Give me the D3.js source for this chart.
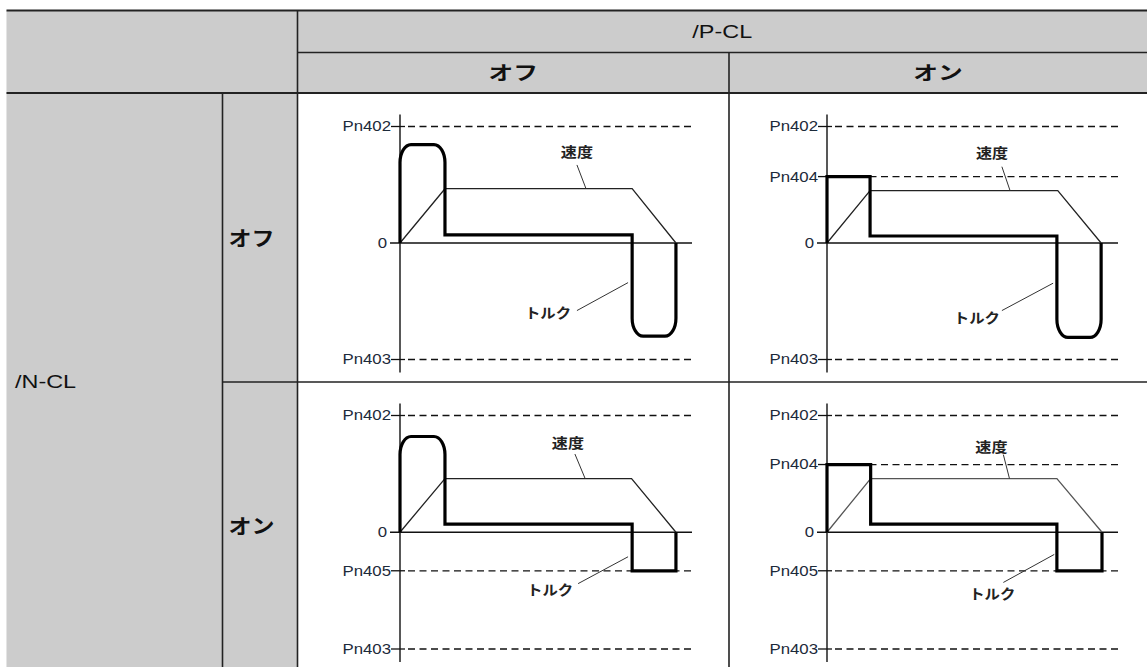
<!DOCTYPE html>
<html><head><meta charset="utf-8">
<script src="https://cdn.jsdelivr.net/npm/d3@7"></script>
<style>html,body{margin:0;padding:0;background:#fff;} svg{display:block}</style>
</head><body>
<svg id="chart" width="1147" height="667"></svg>
<script>
// ---------- DATA ----------
const colHeader = "/P-CL";
const rowHeader = "/N-CL";
const colStates = ["オフ", "オン"];
const rowStates = ["オフ", "オン"];
const speedLabel = "速度";
const torqueLabel = "トルク";

// reference levels [label, value] (Pn402 = +1, Pn403 = -1)
const levelsOffOff = [["Pn402", 1], ["0", 0], ["Pn403", -1]];
const levelsOffOn  = [["Pn402", 1], ["Pn404", 0.57], ["0", 0], ["Pn403", -1]];
const levelsOnOff  = [["Pn402", 1], ["0", 0], ["Pn405", -0.33], ["Pn403", -1]];
const levelsOnOn   = [["Pn402", 1], ["Pn404", 0.58], ["0", 0], ["Pn405", -0.33], ["Pn403", -1]];

// speed [time, value]
const speedOffOff = [[0, 0], [15.4, 0.466], [79.5, 0.466], [94.5, 0]];
const speedOffOn  = [[0, 0], [14.8, 0.45], [79.3, 0.45], [94.2, 0]];
const speedOnOff  = [[0, 0], [15.4, 0.46], [79.3, 0.46], [94.5, 0]];
const speedOnOn   = [[0, 0], [15.0, 0.46], [79.0, 0.46], [94.5, 0]];

// torque [time, value]
const torqueOffOff = [[0, 0], [0, 0.845], [15.4, 0.845], [15.4, 0.07], [79.5, 0.07], [79.5, -0.80], [94.5, -0.80], [94.5, 0]];
const torqueOffOn  = [[0, 0], [0, 0.57], [14.8, 0.57], [14.8, 0.06], [79.0, 0.06], [79.0, -0.81], [94.2, -0.81], [94.2, 0]];
const torqueOnOff  = [[0, 0], [0, 0.82], [15.4, 0.82], [15.4, 0.07], [79.5, 0.07], [79.5, -0.33], [94.5, -0.33], [94.5, 0]];
const torqueOnOn   = [[0, 0], [0, 0.58], [15.0, 0.58], [15.0, 0.07], [79.0, 0.07], [79.0, -0.33], [94.5, -0.33], [94.5, 0]];

// label anchors [time, value]: speed label, speed leader (from,to), torque label, torque leader (from,to)
const notesOffOff = {speed: [60.6, 0.78], speedLead: [[60.6, 0.67], [63.7, 0.466]], torque: [50.7, -0.60], torqueLead: [[60.6, -0.58], [78.1, -0.34]]};
const notesOffOn  = {speed: [56.7, 0.77], speedLead: [[60.1, 0.655], [62.9, 0.45]], torque: [51.5, -0.64], torqueLead: [[60.1, -0.58], [77.7, -0.345]]};
const notesOnOff  = {speed: [57.5, 0.77], speedLead: [[59.9, 0.67], [63.4, 0.46]], torque: [51.4, -0.49], torqueLead: [[61.0, -0.44], [78.1, -0.21]]};
const notesOnOn   = {speed: [56.5, 0.735], speedLead: [[60.6, 0.665], [62.7, 0.46]], torque: [56.8, -0.53], torqueLead: [[60.6, -0.43], [78.1, -0.19]]};

// ---------- LAYOUT ----------
const W = 1147, H = 667;
const tableLeft = 6.5, tableTop = 10.5, hdrMid = 52.5, hdrBottom = 93;
const col1 = 222.5, col2 = 297.5, colMid = 729, rowMid = 382;
const colPlotX = [[400, 692], [827, 1118]];
const rowPlotY = [[359.5, 126.5], [649, 415.5]];
const roundIdx = [[[1, 2, 5, 6], [5, 6]], [[1, 2], []]];

const panels = [
  {r: 0, c: 0, levels: levelsOffOff, speed: speedOffOff, torque: torqueOffOff, notes: notesOffOff},
  {r: 0, c: 1, levels: levelsOffOn,  speed: speedOffOn,  torque: torqueOffOn,  notes: notesOffOn},
  {r: 1, c: 0, levels: levelsOnOff,  speed: speedOnOff,  torque: torqueOnOff,  notes: notesOnOff},
  {r: 1, c: 1, levels: levelsOnOn,   speed: speedOnOn,   torque: torqueOnOn,   notes: notesOnOn}
];

const svg = d3.select("#chart");
const latin = "'Liberation Sans', Arial, sans-serif";
const jp = "'Noto Sans CJK JP', sans-serif";

// text helper with horizontal stretch (the source is horizontally widened)
function label(parent, x, y, str, o) {
  return parent.append("text")
    .attr("transform", `translate(${x},${y}) scale(${o.sx || 1},1)`)
    .attr("dy", o.dy || "0.35em")
    .attr("text-anchor", o.anchor || "start")
    .attr("font-family", o.family)
    .attr("font-size", o.size)
    .attr("font-weight", o.weight || 400)
    .attr("fill", o.fill || "#111")
    .text(str);
}

// table backgrounds
svg.append("rect").attr("x", tableLeft).attr("y", tableTop).attr("width", W - tableLeft).attr("height", hdrBottom - tableTop).attr("fill", "#cccccc");
svg.append("rect").attr("x", tableLeft).attr("y", hdrBottom).attr("width", col2 - tableLeft).attr("height", H - hdrBottom).attr("fill", "#cccccc");
svg.append("line").attr("x1", tableLeft).attr("x2", tableLeft).attr("y1", tableTop).attr("y2", H).attr("stroke", "#e4e4e4").attr("stroke-width", 1);

const grid = svg.append("g").attr("stroke", "#222").attr("fill", "none");
grid.append("line").attr("x1", tableLeft).attr("x2", W).attr("y1", tableTop).attr("y2", tableTop).attr("stroke-width", 1.8);
grid.append("line").attr("x1", col2).attr("x2", W).attr("y1", hdrMid).attr("y2", hdrMid).attr("stroke-width", 1.6);
grid.append("line").attr("x1", tableLeft).attr("x2", W).attr("y1", hdrBottom).attr("y2", hdrBottom).attr("stroke-width", 2.2);
grid.append("line").attr("x1", col2).attr("x2", col2).attr("y1", tableTop).attr("y2", H).attr("stroke-width", 1.6);
grid.append("line").attr("x1", colMid).attr("x2", colMid).attr("y1", hdrMid).attr("y2", H).attr("stroke-width", 1.6);
grid.append("line").attr("x1", col1).attr("x2", col1).attr("y1", hdrBottom - 1).attr("y2", H).attr("stroke-width", 1.6);
grid.append("line").attr("x1", col1).attr("x2", W).attr("y1", rowMid).attr("y2", rowMid).attr("stroke-width", 1.6);

// headers
const hdr = svg.append("g");
label(hdr, (col2 + W) / 2, (tableTop + hdrMid) / 2, colHeader, {anchor: "middle", family: latin, size: 18, sx: 1.3});
colStates.forEach((s, i) => {
  const x0 = i === 0 ? col2 : colMid, x1 = i === 0 ? colMid : W;
  label(hdr, (x0 + x1) / 2, (hdrMid + hdrBottom) / 2, s, {anchor: "middle", family: jp, size: 19, weight: 700, sx: 1.3, dy: "0.37em"});
});
label(hdr, 15, rowMid, rowHeader, {family: latin, size: 18, sx: 1.3});
const rowLabelY = [239, 527];
rowStates.forEach((s, i) => {
  label(hdr, col1 + 6, rowLabelY[i], s, {family: jp, size: 20, weight: 700, sx: 1.15, dy: "0.37em"});
});

// rounded-corner path builder
function cornerPath(pts, rounded, rx, ry) {
  const p = d3.path();
  p.moveTo(pts[0][0], pts[0][1]);
  for (let i = 1; i < pts.length; i++) {
    const v = pts[i];
    if (rounded.includes(i) && i < pts.length - 1) {
      const a = pts[i - 1], b = pts[i + 1];
      const inLen = Math.hypot(v[0] - a[0], v[1] - a[1]);
      const outLen = Math.hypot(b[0] - v[0], b[1] - v[1]);
      const inVert = Math.abs(v[0] - a[0]) < 0.5;
      const dIn = inVert ? ry : rx, dOut = inVert ? rx : ry;
      const s = [v[0] - (v[0] - a[0]) / inLen * dIn, v[1] - (v[1] - a[1]) / inLen * dIn];
      const e = [v[0] + (b[0] - v[0]) / outLen * dOut, v[1] + (b[1] - v[1]) / outLen * dOut];
      const k = 0.55;
      p.lineTo(s[0], s[1]);
      p.bezierCurveTo(s[0] + (v[0] - s[0]) * k, s[1] + (v[1] - s[1]) * k,
                      e[0] + (v[0] - e[0]) * k, e[1] + (v[1] - e[1]) * k, e[0], e[1]);
    } else {
      p.lineTo(v[0], v[1]);
    }
  }
  return p.toString();
}

panels.forEach(P => {
  const [xa, xb] = colPlotX[P.c];
  const [yb, yt] = rowPlotY[P.r];
  const x = d3.scaleLinear().domain([0, 100]).range([xa, xb]);
  const y = d3.scaleLinear().domain([-1, 1]).range([yb, yt]);
  const g = svg.append("g");

  // reference lines
  P.levels.forEach(([lab, v]) => {
    const yy = y(v);
    if (v === 0) {
      g.append("line").attr("x1", xa - 10).attr("x2", xb).attr("y1", yy).attr("y2", yy)
        .attr("stroke", "#111").attr("stroke-width", 1.3);
    } else {
      g.append("line").attr("x1", xa - 9).attr("x2", xa + 5).attr("y1", yy).attr("y2", yy)
        .attr("stroke", "#111").attr("stroke-width", 1.3);
      g.append("line").attr("x1", xa + 8).attr("x2", xb).attr("y1", yy).attr("y2", yy)
        .attr("stroke", "#111").attr("stroke-width", 1.3).attr("stroke-dasharray", "7,4.5");
    }
    label(g, xa - (v === 0 ? 13 : 9), yy, lab, {anchor: "end", family: latin, size: 14, sx: 1.2, fill: "#1c2a3a"});
  });

  // vertical axis
  g.append("line").attr("x1", xa).attr("x2", xa).attr("y1", yt - 12).attr("y2", yb + 13)
    .attr("stroke", "#111").attr("stroke-width", 1.4);

  // speed
  const line = d3.line().x(d => x(d[0])).y(d => y(d[1]));
  g.append("path").attr("d", line(P.speed)).attr("fill", "none")
    .attr("stroke", P.r === 1 && P.c === 1 ? "#555" : "#222").attr("stroke-width", 1.3);

  // torque
  const tp = P.torque.map(d => [x(d[0]), y(d[1])]);
  g.append("path").attr("d", cornerPath(tp, roundIdx[P.r][P.c], 11, 18)).attr("fill", "none")
    .attr("stroke", "#000").attr("stroke-width", 3.2).attr("stroke-linejoin", "miter");

  // annotations
  const n = P.notes;
  g.append("line").attr("x1", x(n.speedLead[0][0])).attr("y1", y(n.speedLead[0][1]))
    .attr("x2", x(n.speedLead[1][0])).attr("y2", y(n.speedLead[1][1])).attr("stroke", "#333").attr("stroke-width", 1);
  g.append("line").attr("x1", x(n.torqueLead[0][0])).attr("y1", y(n.torqueLead[0][1]))
    .attr("x2", x(n.torqueLead[1][0])).attr("y2", y(n.torqueLead[1][1])).attr("stroke", "#333").attr("stroke-width", 1);
  label(g, x(n.speed[0]), y(n.speed[1]), speedLabel, {anchor: "middle", family: jp, size: 14, weight: 700, sx: 1.15, fill: "#222", dy: "0.37em"});
  label(g, x(n.torque[0]), y(n.torque[1]), torqueLabel, {anchor: "middle", family: jp, size: 14, weight: 700, sx: 1.1, fill: "#222", dy: "0.37em"});
});
</script>
</body></html>
